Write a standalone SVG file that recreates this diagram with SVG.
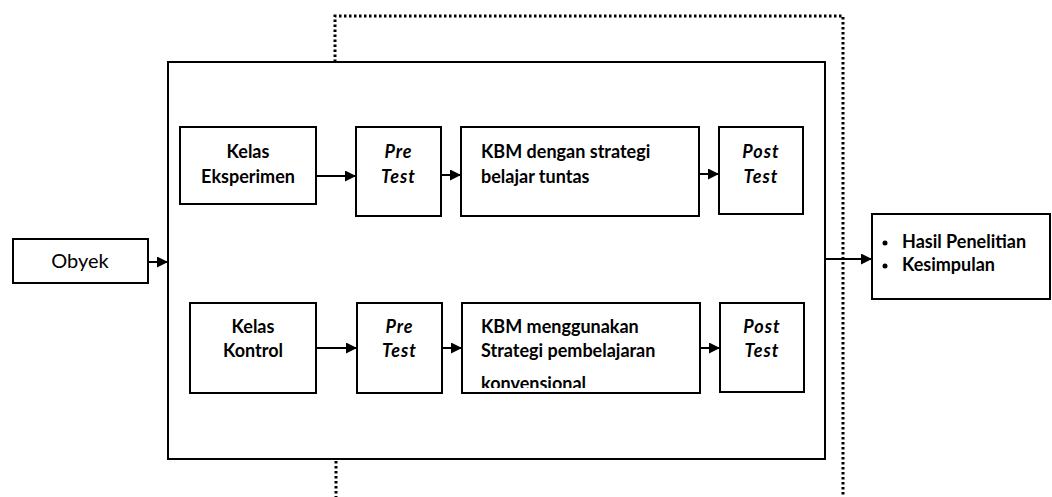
<svg xmlns="http://www.w3.org/2000/svg" width="1052" height="497" viewBox="0 0 1052 497">
<style>
.box{fill:#fff;stroke:#000;stroke-width:2}
.t{font-family:Lato,"Open Sans",sans-serif;font-size:18px;font-weight:bold;fill:#000}
.c{text-anchor:middle}
.i{font-style:italic;letter-spacing:1px}
.n{font-weight:normal;font-size:20px}
.ln{stroke:#000;stroke-width:2;fill:none}
.dot{stroke:#000;stroke-width:3;fill:none;stroke-dasharray:2.5 2.5}
</style>
<defs>
<marker id="ah" viewBox="0 0 10 10" refX="10" refY="5" markerWidth="11" markerHeight="11" markerUnits="userSpaceOnUse" orient="auto">
<path d="M0,0 L10,5 L0,10 z" fill="#000"/>
</marker>
<clipPath id="kbm2clip"><rect x="462" y="303" width="238" height="85"/></clipPath>
</defs>
<g id="dotted">
<path class="dot" d="M335,62 V16 H843 V497"/>
<path class="dot" d="M336,461 V497"/>
</g>
<g id="main"><rect class="box" x="168" y="62" width="657" height="397"/></g>
<g id="obyek"><rect class="box" x="13" y="239" width="135" height="44"/><text class="t c n" x="80" y="268">Obyek</text></g>
<g id="kelas-eksperimen"><rect class="box" x="180" y="127" width="136" height="77"/><text class="t c" x="248" y="158">Kelas</text><text class="t c" x="248" y="183">Eksperimen</text></g>
<g id="pretest1"><rect class="box" x="356" y="127" width="85" height="89"/><text class="t c i" x="398.5" y="158">Pre</text><text class="t c i" x="398.5" y="183">Test</text></g>
<g id="kbm1"><rect class="box" x="461" y="127" width="238" height="89"/><text class="t" x="481" y="158">KBM dengan strategi</text><text class="t" x="481" y="183">belajar tuntas</text></g>
<g id="posttest1"><rect class="box" x="719" y="127" width="84" height="87"/><text class="t c i" x="761" y="158">Post</text><text class="t c i" x="761" y="183">Test</text></g>
<g id="kelas-kontrol"><rect class="box" x="190" y="303" width="126" height="90"/><text class="t c" x="253" y="333">Kelas</text><text class="t c" x="253" y="357">Kontrol</text></g>
<g id="pretest2"><rect class="box" x="357" y="303" width="85" height="90"/><text class="t c i" x="399.5" y="333">Pre</text><text class="t c i" x="399.5" y="357">Test</text></g>
<g id="kbm2"><rect class="box" x="462" y="303" width="238" height="90"/><g clip-path="url(#kbm2clip)"><text class="t" x="481" y="333">KBM menggunakan</text><text class="t" x="481" y="357">Strategi pembelajaran</text><text class="t" x="481" y="390">konvensional</text></g></g>
<g id="posttest2"><rect class="box" x="720" y="303" width="84" height="89"/><text class="t c i" x="762" y="333">Post</text><text class="t c i" x="762" y="357">Test</text></g>
<g id="hasil"><rect class="box" x="872" y="214" width="178" height="85"/><circle cx="885" cy="243" r="2.5"/><circle cx="885" cy="266" r="2.5"/><text class="t" x="902" y="248">Hasil Penelitian</text><text class="t" x="902" y="271">Kesimpulan</text></g>
<g id="connectors">
<path class="ln" d="M148,262 H168" marker-end="url(#ah)"/>
<path class="ln" d="M316,176 H356" marker-end="url(#ah)"/>
<path class="ln" d="M441,175 H461" marker-end="url(#ah)"/>
<path class="ln" d="M699,174 H719" marker-end="url(#ah)"/>
<path class="ln" d="M316,348 H357" marker-end="url(#ah)"/>
<path class="ln" d="M442,348 H462" marker-end="url(#ah)"/>
<path class="ln" d="M700,348 H720" marker-end="url(#ah)"/>
<path class="ln" d="M825,259 H872" marker-end="url(#ah)"/>
</g>
</svg>
